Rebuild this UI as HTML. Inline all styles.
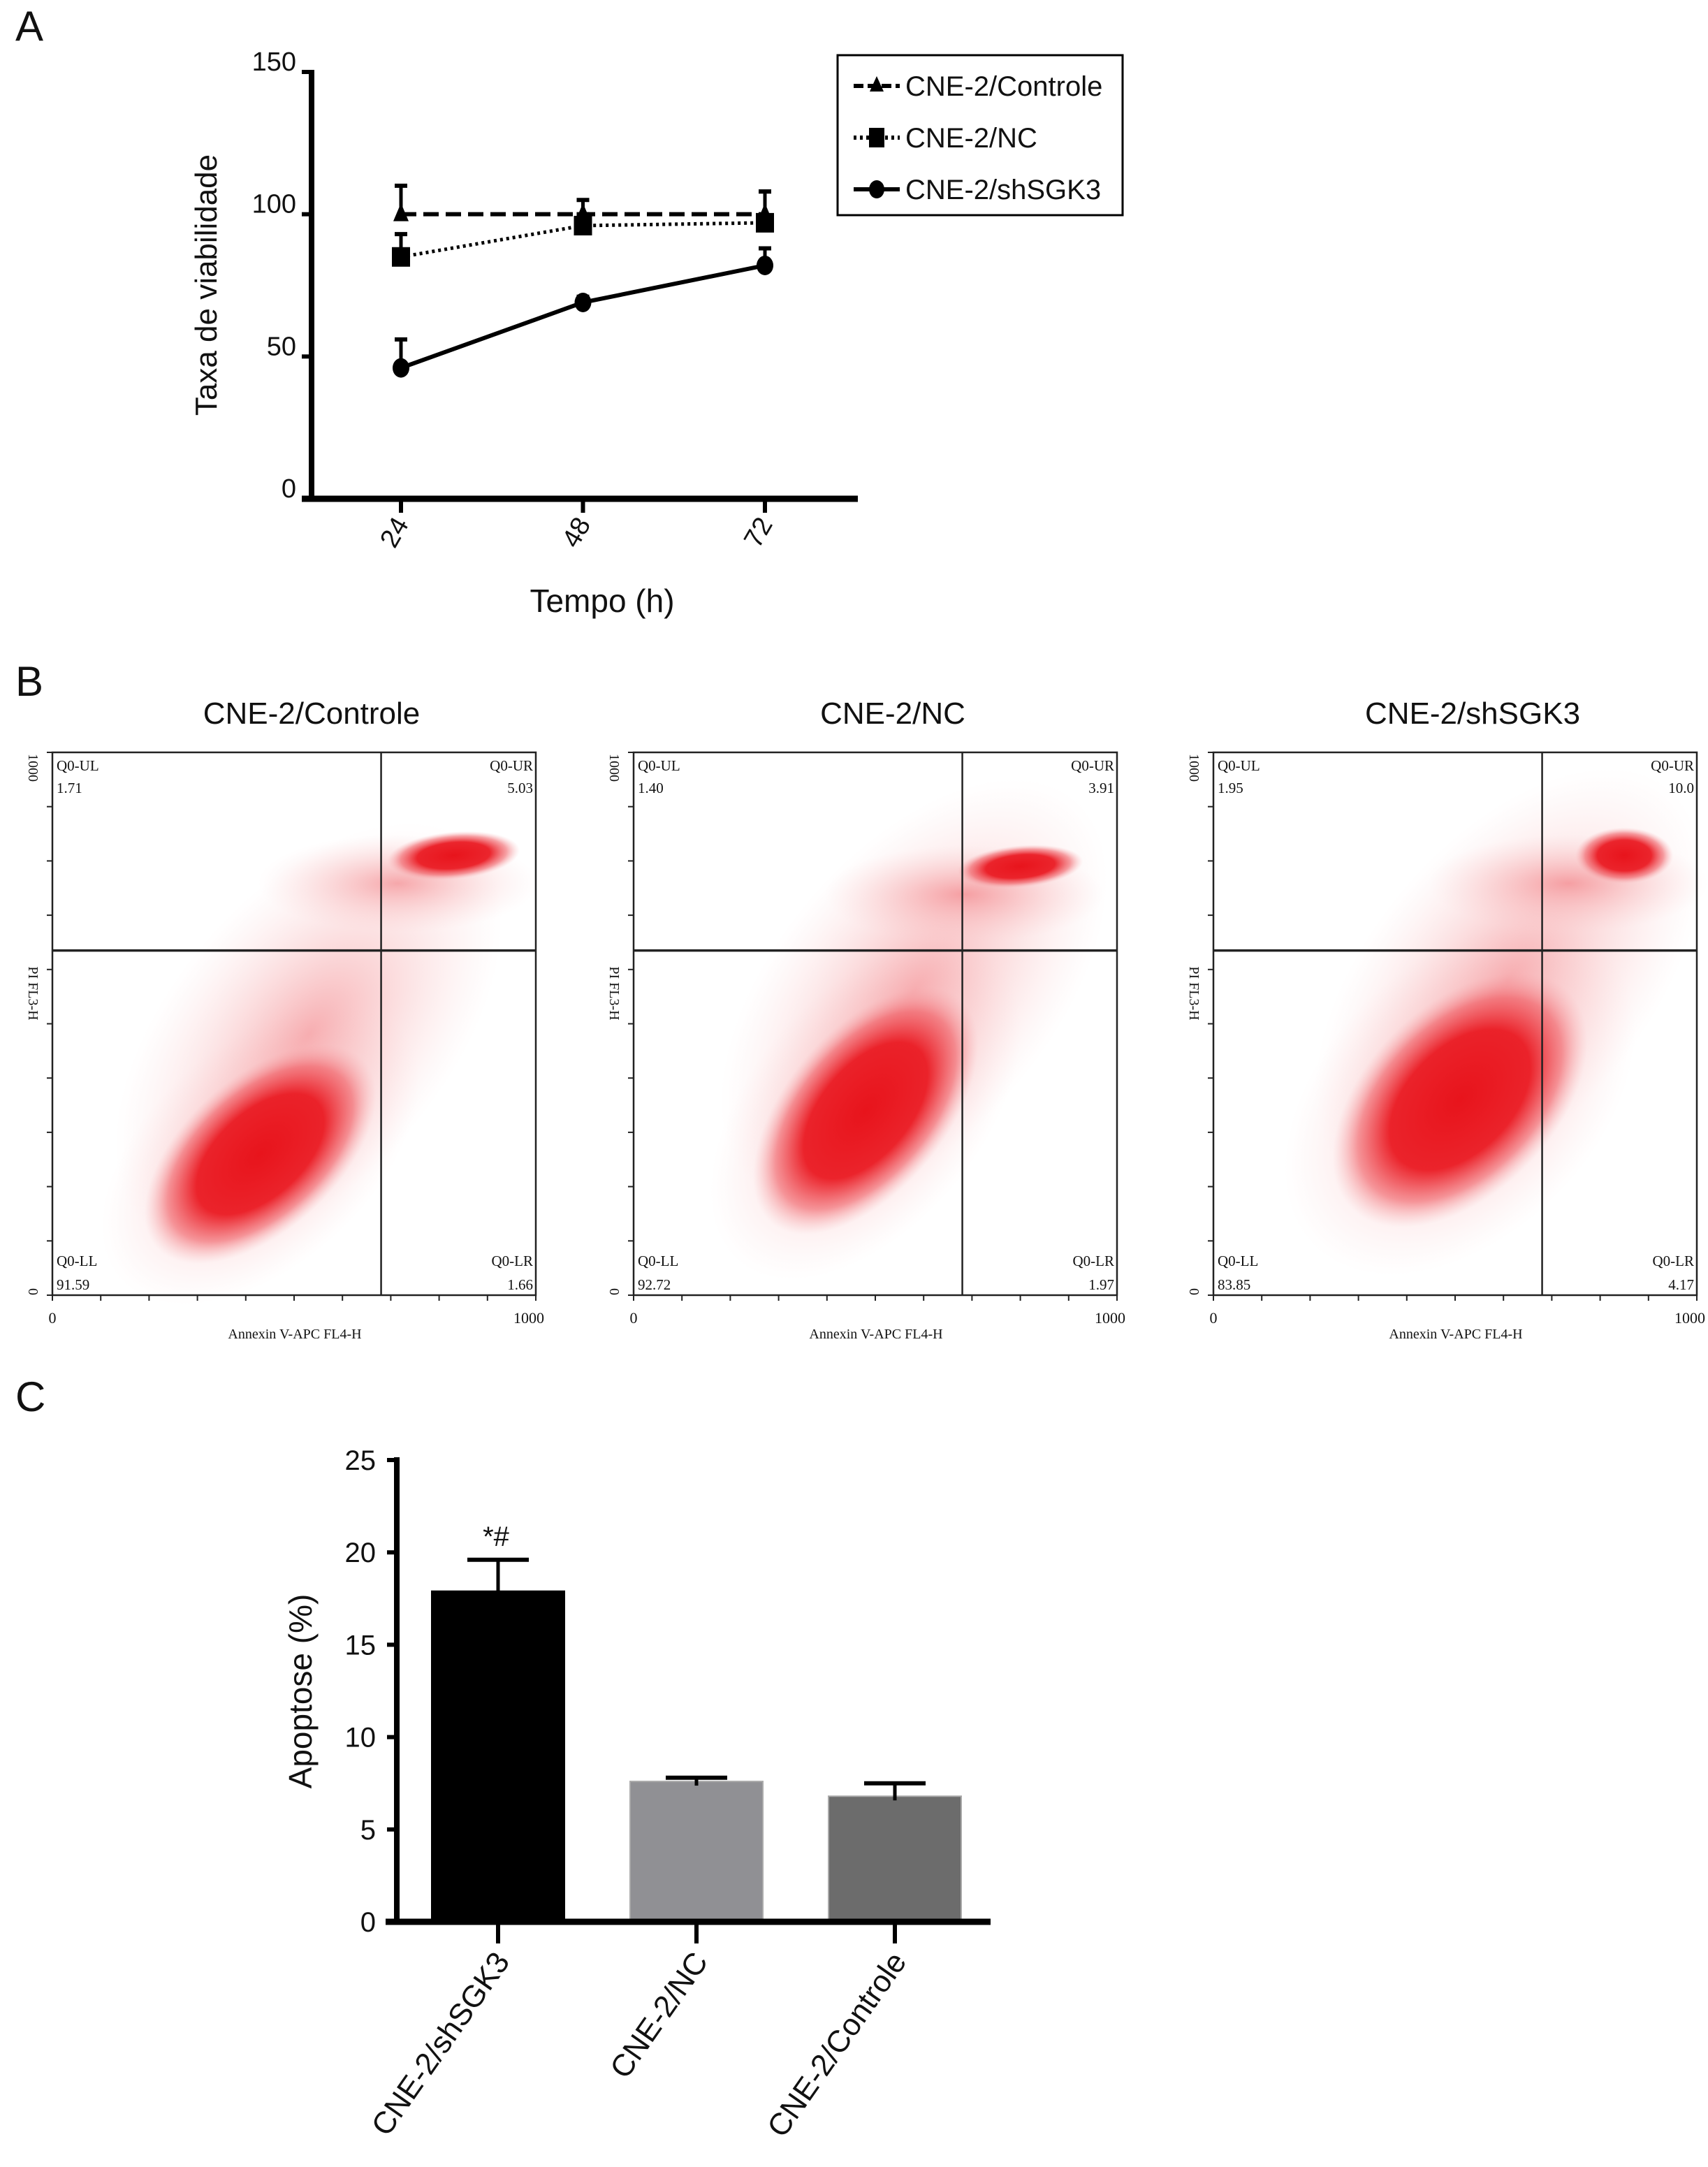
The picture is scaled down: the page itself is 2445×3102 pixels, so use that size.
<!DOCTYPE html>
<html><head><meta charset="utf-8">
<style>
html,body{margin:0;padding:0;background:#fff;}
svg{display:block;}
text{font-family:"Liberation Sans",sans-serif;fill:#111;}
.serif{font-family:"Liberation Serif",serif;}
</style></head>
<body>
<svg id="fig" width="2445" height="3102" viewBox="0 0 2445 3102" xmlns="http://www.w3.org/2000/svg">
<defs>
<radialGradient id="blob" cx="50%" cy="50%" r="50%">
<stop offset="0%" stop-color="#e8141c" stop-opacity="1"/>
<stop offset="55%" stop-color="#ea1a22" stop-opacity="0.95"/>
<stop offset="80%" stop-color="#ee4048" stop-opacity="0.5"/>
<stop offset="100%" stop-color="#f5a0a4" stop-opacity="0"/>
</radialGradient>
<radialGradient id="haze" cx="50%" cy="50%" r="50%">
<stop offset="0%" stop-color="#f06a70" stop-opacity="0.55"/>
<stop offset="100%" stop-color="#f8c0c2" stop-opacity="0"/>
</radialGradient>
</defs>
<g id="panelA"></g>
<g id="panelB"></g>
<g id="panelC"></g>
</svg>
<script>
// ---- Panel A data ----
const timeLabels = ["24","48","72"];
const controleVals = [100, 100, 100];
const controleErr = [10, 5, 8];
const ncVals = [85, 96, 97];
const ncErr = [8, 4, 11];
const shVals = [46, 69, 82];
const shErr = [10, 2, 6];
const yTicksA = [0, 50, 100, 150];

// ---- Panel C data ----
const barCats = ["CNE-2/shSGK3","CNE-2/NC","CNE-2/Controle"];
const barVals = [17.9, 7.6, 6.8];
const barErr = [1.7, 0.2, 0.7];
const yTicksC = [0,5,10,15,20,25];

// ---- Panel B data ----
const flowTitles = ["CNE-2/Controle","CNE-2/NC","CNE-2/shSGK3"];
const flowUL = ["1.71","1.40","1.95"];
const flowUR = ["5.03","3.91","10.0"];
const flowLL = ["91.59","92.72","83.85"];
const flowLR = ["1.66","1.97","4.17"];

const NS="http://www.w3.org/2000/svg";
function mk(parent,tag,attrs,txt){const e=document.createElementNS(NS,tag);for(const k in attrs)e.setAttribute(k,attrs[k]);if(txt!==undefined)e.textContent=txt;parent.appendChild(e);return e;}

// ===== Panel A =====
(function(){
const g=document.getElementById('panelA');
const yA=v=>714-(v/150)*611;
const xA=i=>574+i*260.5;
const t=mk(g,'text',{x:22,y:58,'font-size':60});t.textContent='A';


const ax=mk(g,'line',{x1:446,y1:100,x2:446,y2:714,stroke:'#000','stroke-width':8});


const xl=mk(g,'line',{x1:432,y1:714,x2:1228,y2:714,stroke:'#000','stroke-width':9});


yTicksA.forEach(v=>{
 mk(g,'line',{x1:432,y1:yA(v),x2:446,y2:yA(v),stroke:'#000','stroke-width':6});
 const tl=mk(g,'text',{x:424,y:yA(v)-2,'font-size':38,'text-anchor':'end'},String(v));
 
 
});
timeLabels.forEach((s,i)=>{
 mk(g,'line',{x1:xA(i),y1:714,x2:xA(i),y2:734,stroke:'#000','stroke-width':6});
 const tl=mk(g,'text',{x:xA(i)+12,y:750,'font-size':38,'text-anchor':'end',transform:`rotate(-60 ${xA(i)+12} 750)`},s);
 
 
});
const yt=mk(g,'text',{x:310,y:408,'font-size':44,'text-anchor':'middle',transform:'rotate(-90 310 408)'},'Taxa de viabilidade');


const xt=mk(g,'text',{x:862,y:876,'font-size':46,'text-anchor':'middle'},'Tempo (h)');


function series(vals,err,dash,marker,name){
 const sg=mk(g,'g',{});
 
 
 vals.forEach((v,i)=>{
  mk(sg,'line',{x1:xA(i),y1:yA(v),x2:xA(i),y2:yA(v+err[i]),stroke:'#000','stroke-width':5});
  mk(sg,'line',{x1:xA(i)-9,y1:yA(v+err[i]),x2:xA(i)+9,y2:yA(v+err[i]),stroke:'#000','stroke-width':6});
 });
 const pts=vals.map((v,i)=>xA(i)+','+yA(v)).join(' ');
 const pl=mk(sg,'polyline',{points:pts,fill:'none',stroke:'#000','stroke-width':dash==='dot'?5:6,'stroke-dasharray':dash==='dash'?'22 10':(dash==='dot'?'4 5':'none')});
 vals.forEach((v,i)=>{
  const x=xA(i),y=yA(v);let m;
  if(marker==='tri')m=mk(sg,'polygon',{points:`${x},${y-16} ${x-11},${y+10} ${x+11},${y+10}`,fill:'#000'});
  else if(marker==='sq')m=mk(sg,'rect',{x:x-13,y:y-14,width:26,height:28,fill:'#000'});
  else m=mk(sg,'ellipse',{cx:x,cy:y,rx:12,ry:14,fill:'#000'});
  
  
 });
}
series(controleVals,controleErr,'dash','tri','series-controle');
series(ncVals,ncErr,'dot','sq','series-nc');
series(shVals,shErr,'solid','circ','series-shsgk3');
// legend
const lg=mk(g,'g',{});


mk(lg,'rect',{x:1199,y:79,width:408,height:229,fill:'#fff',stroke:'#000','stroke-width':3});
const items=[['CNE-2/Controle','dash','tri'],['CNE-2/NC','dot','sq'],['CNE-2/shSGK3','solid','circ']];
items.forEach((it,i)=>{
 const y=123+i*74;
 const e=mk(lg,'g',{});
 
 
 mk(e,'line',{x1:1222,y1:y,x2:1288,y2:y,stroke:'#000','stroke-width':6,'stroke-dasharray':it[1]==='dash'?'14 6':(it[1]==='dot'?'4 5':'none')});
 const x=1255;
 if(it[2]==='tri')mk(e,'polygon',{points:`${x},${y-14} ${x-10},${y+8} ${x+10},${y+8}`,fill:'#000'});
 else if(it[2]==='sq')mk(e,'rect',{x:x-11,y:y-14,width:22,height:28,fill:'#000'});
 else mk(e,'ellipse',{cx:x,cy:y,rx:11,ry:13,fill:'#000'});
 mk(e,'text',{x:1296,y:y+14,'font-size':40},it[0]);
});
})();

// ===== Panel B =====
(function(){
const g=document.getElementById('panelB');
const bl=mk(g,'text',{x:22,y:996,'font-size':60},'B');


const lefts=[75,907,1737];
const W=692,T=1077,H=777;
// cluster shapes per plot: [cx frac, cy frac, rx, ry, rot]
const main=[[0.43,0.74,200,110,-42],[0.48,0.66,210,115,-50],[0.51,0.64,220,135,-45]];
const ur=[[0.83,0.19,95,34,-5],[0.80,0.21,90,30,-5],[0.85,0.19,70,40,0]];
lefts.forEach((L,p)=>{
 const pg=mk(g,'g',{});
 
 
 const tt=mk(pg,'text',{x:L+371,y:1036,'font-size':44,'text-anchor':'middle'},flowTitles[p]);
 
 
 // haze
 const m=main[p],u=ur[p];
 mk(pg,'ellipse',{cx:L+W*(m[0]+0.1),cy:T+H*(m[1]-0.22),rx:360,ry:200,fill:'url(#haze)',transform:`rotate(-50 ${L+W*(m[0]+0.1)} ${T+H*(m[1]-0.22)})`});
 mk(pg,'ellipse',{cx:L+W*u[0]-80,cy:T+H*u[1]+40,rx:200,ry:70,fill:'url(#haze)'});
 mk(pg,'ellipse',{cx:L+W*m[0],cy:T+H*m[1],rx:m[2]*1.35,ry:m[3]*1.45,fill:'url(#haze)',transform:`rotate(${m[4]} ${L+W*m[0]} ${T+H*m[1]})`});
 const cl=mk(pg,'ellipse',{cx:L+W*m[0],cy:T+H*m[1],rx:m[2],ry:m[3],fill:'url(#blob)',transform:`rotate(${m[4]} ${L+W*m[0]} ${T+H*m[1]})`});
 
 
 const uc=mk(pg,'ellipse',{cx:L+W*u[0],cy:T+H*u[1],rx:u[2],ry:u[3],fill:'url(#blob)',transform:`rotate(${u[4]} ${L+W*u[0]} ${T+H*u[1]})`});
 
 
 // frame
 mk(pg,'rect',{x:L,y:T,width:W,height:H,fill:'none',stroke:'#222','stroke-width':2.5});
 mk(pg,'line',{x1:L+W*0.68,y1:T,x2:L+W*0.68,y2:T+H,stroke:'#222','stroke-width':2.5});
 mk(pg,'line',{x1:L,y1:T+H*0.365,x2:L+W,y2:T+H*0.365,stroke:'#222','stroke-width':3.5});
 for(let k=0;k<=10;k++){mk(pg,'line',{x1:L-8,y1:T+H*k/10,x2:L,y2:T+H*k/10,stroke:'#222','stroke-width':2});
  mk(pg,'line',{x1:L+W*k/10,y1:T+H,x2:L+W*k/10,y2:T+H+8,stroke:'#222','stroke-width':2});}
 const fs=21;
 [['Q0-UL',L+6,T+26,'start'],[flowUL[p],L+6,T+58,'start'],['Q0-UR',L+W-4,T+26,'end'],[flowUR[p],L+W-4,T+58,'end'],
  ['Q0-LL',L+6,T+H-42,'start'],[flowLL[p],L+6,T+H-8,'start'],['Q0-LR',L+W-4,T+H-42,'end'],[flowLR[p],L+W-4,T+H-8,'end']].forEach(a=>{
  const q=mk(pg,'text',{x:a[1],y:a[2],'font-size':fs,'text-anchor':a[3],class:'serif'},a[0]);
  
  
 });
 mk(pg,'text',{x:L-34,y:T+22,'font-size':20,class:'serif','text-anchor':'middle',transform:`rotate(90 ${L-34} ${T+22})`},'1000');
 mk(pg,'text',{x:L-34,y:T+H-5,'font-size':20,class:'serif','text-anchor':'middle',transform:`rotate(90 ${L-34} ${T+H-5})`},'0');
 const yl=mk(pg,'text',{x:L-34,y:T+345,'font-size':20,class:'serif','text-anchor':'middle',transform:`rotate(90 ${L-34} ${T+345})`},'PI FL3-H');
 
 
 mk(pg,'text',{x:L,y:T+H+40,'font-size':22,class:'serif','text-anchor':'middle'},'0');
 mk(pg,'text',{x:L+W-10,y:T+H+40,'font-size':22,class:'serif','text-anchor':'middle'},'1000');
 const xl=mk(pg,'text',{x:L+347,y:T+H+62,'font-size':20,class:'serif','text-anchor':'middle'},'Annexin V-APC FL4-H');
 
 
});
})();

// ===== Panel C =====
(function(){
const g=document.getElementById('panelC');
const cl=mk(g,'text',{x:22,y:2020,'font-size':60},'C');


const yC=v=>2751-(v/25)*661;
const xC=i=>713+i*284;
const bw=190;
const colors=['#000','#909094','#6c6c6c'];
barCats.forEach((c,i)=>{
 const b=mk(g,'rect',{x:xC(i)-bw/2,y:yC(barVals[i]),width:bw,height:yC(0)-yC(barVals[i]),fill:colors[i],stroke:i?'#aaa':'#000','stroke-width':2});
 
 
 const top=yC(barVals[i]+barErr[i]);
 mk(g,'line',{x1:xC(i),y1:yC(barVals[i])+6,x2:xC(i),y2:top,stroke:'#000','stroke-width':5});
 const eb=mk(g,'line',{x1:xC(i)-44,y1:top,x2:xC(i)+44,y2:top,stroke:'#000','stroke-width':6});
 
 
 mk(g,'line',{x1:xC(i),y1:2751,x2:xC(i),y2:2782,stroke:'#000','stroke-width':6});
 const tl=mk(g,'text',{x:xC(i)+18,y:2808,'font-size':44,'text-anchor':'end',transform:`rotate(-55 ${xC(i)+18} 2808)`},c);
 
 
});
const ya=mk(g,'line',{x1:568,y1:2086,x2:568,y2:2751,stroke:'#000','stroke-width':8});


const xa=mk(g,'line',{x1:552,y1:2751,x2:1418,y2:2751,stroke:'#000','stroke-width':9});


yTicksC.forEach(v=>{
 mk(g,'line',{x1:554,y1:yC(v),x2:568,y2:yC(v),stroke:'#000','stroke-width':6});
 const t=mk(g,'text',{x:538,y:yC(v)+14,'font-size':40,'text-anchor':'end'},String(v));
 
 
});
const yt=mk(g,'text',{x:446,y:2421,'font-size':46,'text-anchor':'middle',transform:'rotate(-90 446 2421)'},'Apoptose (%)');


const sig=mk(g,'text',{x:710,y:2213,'font-size':40,'text-anchor':'middle'},'*#');


})();
</script>
</body></html>
